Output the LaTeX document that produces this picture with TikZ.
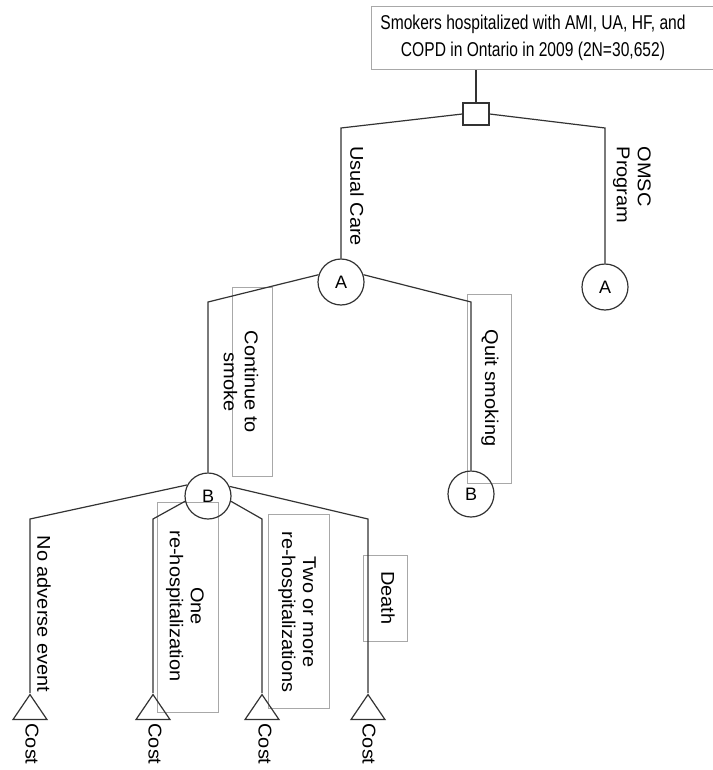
\documentclass[tikz,border=0pt]{standalone}
\usepackage{fontspec}
\setmainfont{Liberation Sans}
\newfontfamily\headfont[FakeStretch=0.78]{Liberation Sans}
\newfontfamily\branchfont[FakeStretch=1.08]{Liberation Sans}
\usetikzlibrary{shapes.geometric}
\definecolor{treeline}{HTML}{333333}
\definecolor{boxgrey}{HTML}{A8A8A8}

\begin{document}
\begin{tikzpicture}
        [x=1pt,y=-1pt,
        every node/.style={inner sep=0pt,align=center},
        head-box/.style={rectangle,draw=boxgrey,line width=1pt,minimum width=342,minimum height=63},
        head-text/.style={font=\headfont\fontsize{20}{27}\selectfont},
        decision-square/.style={rectangle,draw=treeline,line width=1.2pt,minimum width=26,minimum height=22},
        chance-circle/.style={circle,draw=treeline,line width=1.2pt,minimum size=46,font=\fontsize{18}{20}\selectfont},
        cost-triangle/.style={isosceles triangle,isosceles triangle stretches,shape border rotate=90,draw=treeline,line width=1.2pt,minimum width=34,minimum height=25,anchor=apex},
        grey-box/.style={rectangle,draw=boxgrey,line width=0.9pt},
        branch-text/.style={rotate=-90,font=\branchfont\fontsize{18.5}{21}\selectfont},
        tree-line/.style={draw=treeline,line width=1.2pt}
        ]
        \useasboundingbox (0,0) rectangle (712,770);
        \node[head-box] (node-top) at (542,38.5) {};
        \node[grey-box,minimum width=40,minimum height=189] (box-smoke) at (252,381.5) {};
        \node[grey-box,minimum width=44,minimum height=189] (box-quit) at (489,388.5) {};
        \node[grey-box,minimum width=61,minimum height=210] (box-one) at (187.5,607) {};
        \node[grey-box,minimum width=61,minimum height=194] (box-two) at (298.5,611) {};
        \node[grey-box,minimum width=44,minimum height=86] (box-death) at (385,598) {};
        \node[decision-square] (node-square) at (476,114) {};
        \node[chance-circle] (node-a1) at (341,282) {A};
        \node[chance-circle] (node-a2) at (605,287) {A};
        \node[chance-circle] (node-b1) at (208,496) {B};
        \node[chance-circle] (node-b2) at (471,494) {B};
        \node[cost-triangle] (tri-none) at (30,693) {};
        \node[cost-triangle] (tri-one) at (153,693) {};
        \node[cost-triangle] (tri-two) at (262,693) {};
        \node[cost-triangle] (tri-death) at (368,693) {};
        \coordinate (c-usual) at (341,128);
        \coordinate (c-omsc) at (605,128);
        \coordinate (c-smoke) at (208,302);
        \coordinate (c-quit) at (471,302);
        \coordinate (c-none) at (30,519);
        \coordinate (c-one) at (153,519);
        \coordinate (c-two) at (262,519);
        \coordinate (c-death) at (368,519);
        \draw[tree-line] (node-top.south -| node-square) -- (node-square);
        \draw[tree-line] (node-square.west) -- (c-usual) -- (node-a1);
        \draw[tree-line] (node-square.east) -- (c-omsc) -- (node-a2);
        \draw[tree-line] (node-a1.162) -- (c-smoke) -- (node-b1);
        \draw[tree-line] (node-a1.18) -- (c-quit) -- (node-b2);
        \draw[tree-line] (node-b1.152) -- (c-none) -- (tri-none);
        \draw[tree-line] (node-b1.193) -- (c-one) -- (tri-one);
        \draw[tree-line] (node-b1.-13) -- (c-two) -- (tri-two);
        \draw[tree-line] (node-b1.24) -- (c-death) -- (tri-death);
        \node[head-text] (text-top) at (533,38) {Smokers hospitalized with AMI, UA, HF, and\\COPD in Ontario in 2009 (2N=30,652)};
        \node[branch-text] (lab-usual) at (357,196) {Usual Care};
        \node[branch-text,align=left] (lab-omsc) at (632,185) {OMSC\\Program};
        \node[branch-text] (lab-smoke) at (241,382) {Continue to\\smoke};
        \node[branch-text] (lab-quit) at (490,388) {Quit smoking};
        \node[branch-text] (lab-none) at (44,614) {No adverse event};
        \node[branch-text] (lab-one) at (185,606) {One\\re-hospitalization};
        \node[branch-text] (lab-two) at (297,612) {Two or more\\re-hospitalizations};
        \node[branch-text] (lab-death) at (388,598) {Death};
        \node[branch-text] (cost-none) at (32,744) {Cost};
        \node[branch-text] (cost-one) at (155,744) {Cost};
        \node[branch-text] (cost-two) at (265,744) {Cost};
        \node[branch-text] (cost-death) at (369,744) {Cost};
\end{tikzpicture}
\end{document}
